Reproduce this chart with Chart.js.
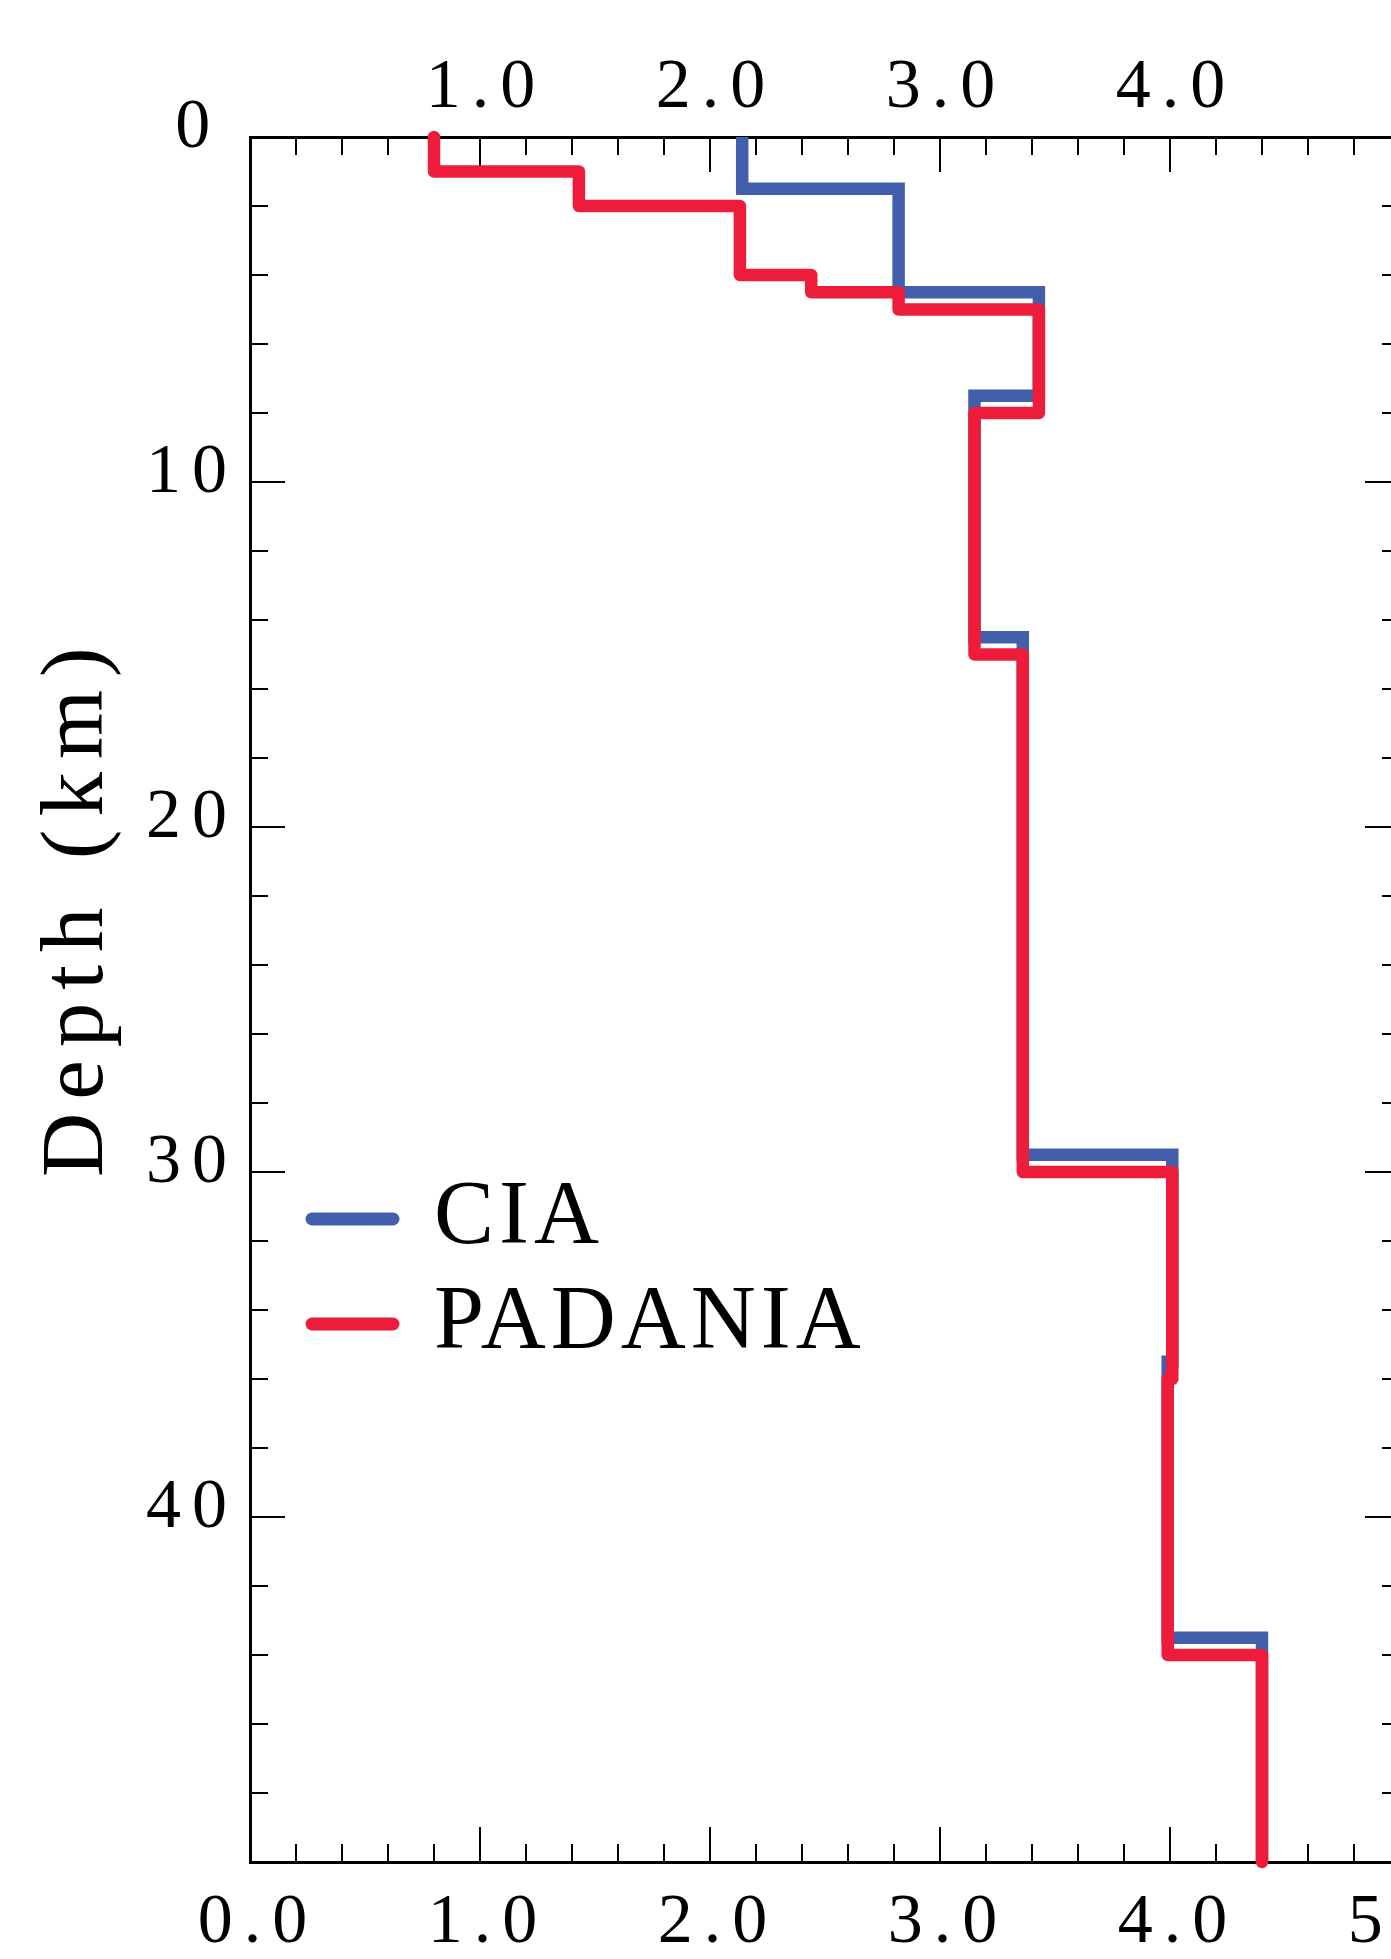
<!DOCTYPE html>
<html>
<head>
<meta charset="utf-8">
<title>Depth profile</title>
<script src="https://cdn.jsdelivr.net/npm/chart.js@4.4.1/dist/chart.umd.min.js"></script>
<style>
  html, body { margin: 0; padding: 0; background: #fff; overflow: hidden; }
  #wrap { position: relative; width: 1391px; height: 1959px; overflow: hidden; }
  #profile { position: absolute; left: 0; top: 0; }
</style>
</head>
<body>
<div id="wrap"><canvas id="profile" width="1430" height="1959"></canvas></div>
<script>
// layered models: top of each layer (km) and its velocity (km/s)
const MAX_DEPTH = 50;
const ciaTops = [0, 1.5, 4.5, 7.5, 14.5, 29.5, 35.5, 43.5];
const ciaVel = [2.14, 2.82, 3.43, 3.15, 3.36, 4.01, 3.99, 4.40];
const padaniaTops = [0, 1, 2, 4, 4.5, 5, 8, 15, 30, 36, 44];
const padaniaVel = [0.80, 1.43, 2.13, 2.44, 2.82, 3.43, 3.15, 3.36, 4.01, 3.99, 4.40];
const modelNames = ["CIA", "PADANIA"];
const depthTitle = "Depth (km)";

const SERIF = '"Liberation Serif", "Times New Roman", serif';
const BLUE = "#415FAA";
const RED = "#EE1C3B";

// each layer becomes a vertical segment; consecutive layers join horizontally
function profile(tops, vel) {
    const pts = [];
    tops.forEach((top, i) => {
        const bottom = i + 1 < tops.length ? tops[i + 1] : MAX_DEPTH;
        pts.push({ x: vel[i], y: top }, { x: vel[i], y: bottom });
    });
    return pts;
}

const isMajor = (v, step) => Math.abs(v / step - Math.round(v / step)) < 1e-6;

// fixed box sizes so the plot area lands where it should
const fixSize = (size) => (scale) => {
    if (scale.isHorizontal()) scale.height = size;
    else scale.width = size;
    scale.paddingLeft = scale.paddingRight = 0;
    scale.paddingTop = scale.paddingBottom = 0;
};

const tickFont = { family: SERIF, size: 70, lineHeight: 1 };

function axis(position, extra) {
    const horizontal = position === "top" || position === "bottom";
    return Object.assign({
        type: "linear",
        position,
        min: 0,
        max: horizontal ? 5 : MAX_DEPTH,
        reverse: !horizontal,
        grid: { display: false, drawTicks: false },
        border: { display: true, width: 3, color: "#000" },
    }, extra);
}

// ticks point into the plot on all four sides
const inwardTicks = {
    id: "inwardTicks",
    beforeDatasetsDraw(chart) {
        const { ctx, chartArea: a } = chart;
        const MAJOR = 35, MINOR = 18;
        ctx.save();
        ctx.strokeStyle = "#000";
        ctx.lineWidth = 2;
        ctx.beginPath();
        ["x", "x2", "y", "y2"].forEach((id) => {
            const s = chart.scales[id];
            const step = s.isHorizontal() ? 1 : 10;
            s.ticks.forEach((t) => {
                if (t.value <= s.min || t.value >= s.max) return;
                const p = s.getPixelForValue(t.value);
                const len = isMajor(t.value, step) ? MAJOR : MINOR;
                if (s.position === "bottom") { ctx.moveTo(p, a.bottom); ctx.lineTo(p, a.bottom - len); }
                else if (s.position === "top") { ctx.moveTo(p, a.top); ctx.lineTo(p, a.top + len); }
                else if (s.position === "left") { ctx.moveTo(a.left, p); ctx.lineTo(a.left + len, p); }
                else { ctx.moveTo(a.right, p); ctx.lineTo(a.right - len, p); }
            });
        });
        ctx.stroke();
        ctx.restore();
    },
};

// tracking for the tick numbers
const spacedText = {
    id: "spacedText",
    beforeDraw(chart) { chart.ctx.letterSpacing = "11px"; },
};

// rotated axis title and the key in the lower left of the plot
const notes = {
    id: "notes",
    afterDraw(chart) {
        const { ctx, chartArea: a } = chart;
        const yScale = chart.scales.y;
        ctx.save();
        ctx.fillStyle = "#000";
        ctx.textAlign = "left";
        ctx.textBaseline = "alphabetic";

        ctx.save();
        ctx.letterSpacing = "13px";
        ctx.font = "89px " + SERIF;
        ctx.translate(yScale.left + 102, 1177);
        ctx.rotate(-Math.PI / 2);
        ctx.fillText(depthTitle, 0, 0);
        ctx.restore();

        ctx.letterSpacing = "5px";
        ctx.font = "90px " + SERIF;
        ctx.lineWidth = 13;
        ctx.lineCap = "round";
        chart.data.datasets
            .slice()
            .sort((p, q) => modelNames.indexOf(p.label) - modelNames.indexOf(q.label))
            .forEach((ds, i) => {
                const base = a.top + 1106 + i * 105;
                ctx.strokeStyle = ds.borderColor;
                ctx.beginPath();
                ctx.moveTo(a.left + 62, base - 24);
                ctx.lineTo(a.left + 143, base - 24);
                ctx.stroke();
                ctx.fillText(ds.label, a.left + 184, base);
            });
        ctx.restore();
    },
};

new Chart(document.getElementById("profile"), {
    type: "line",
    data: {
        datasets: [
            {
                label: modelNames[0],
                data: profile(ciaTops, ciaVel),
                borderColor: BLUE,
                backgroundColor: BLUE,
                borderWidth: 12.5,
                borderJoinStyle: "miter",
                borderCapStyle: "butt",
                order: 1,
            },
            {
                label: modelNames[1],
                data: profile(padaniaTops, padaniaVel),
                borderColor: RED,
                backgroundColor: RED,
                borderWidth: 12.5,
                borderJoinStyle: "round",
                borderCapStyle: "round",
                order: 0,
            },
        ],
    },
    options: {
        responsive: false,
        animation: false,
        devicePixelRatio: 1,
        layout: { padding: 0 },
        datasets: { line: { pointRadius: 0, tension: 0, fill: false, clip: false } },
        plugins: { legend: { display: false }, tooltip: { enabled: false } },
        scales: {
            x: axis("bottom", {
                ticks: {
                    stepSize: 0.2, autoSkip: false, maxRotation: 0, padding: 27, labelOffset: 8,
                    font: tickFont, color: "#000",
                    callback: (v) => (isMajor(v, 1) ? v.toFixed(1) : ""),
                },
                afterFit: fixSize(97),
            }),
            x2: axis("top", {
                ticks: {
                    stepSize: 0.2, autoSkip: false, maxRotation: 0, padding: 13, labelOffset: 6,
                    font: tickFont, color: "#000",
                    callback: (v) => (isMajor(v, 1) && v > 0 && v < 5 ? v.toFixed(1) : ""),
                },
                afterFit: fixSize(137),
            }),
            y: axis("left", {
                ticks: {
                    stepSize: 2, autoSkip: false, padding: 12, labelOffset: -8,
                    font: tickFont, color: "#000",
                    callback: (v) => (isMajor(v, 10) && v < MAX_DEPTH ? (v === 0 ? "0\u200A" : String(v)) : ""),
                },
                afterFit: fixSize(250),
            }),
            y2: axis("right", {
                ticks: { stepSize: 2, autoSkip: false, font: tickFont, callback: () => "" },
                afterFit: fixSize(30),
            }),
        },
    },
    plugins: [spacedText, inwardTicks, notes],
});
</script>
</body>
</html>
